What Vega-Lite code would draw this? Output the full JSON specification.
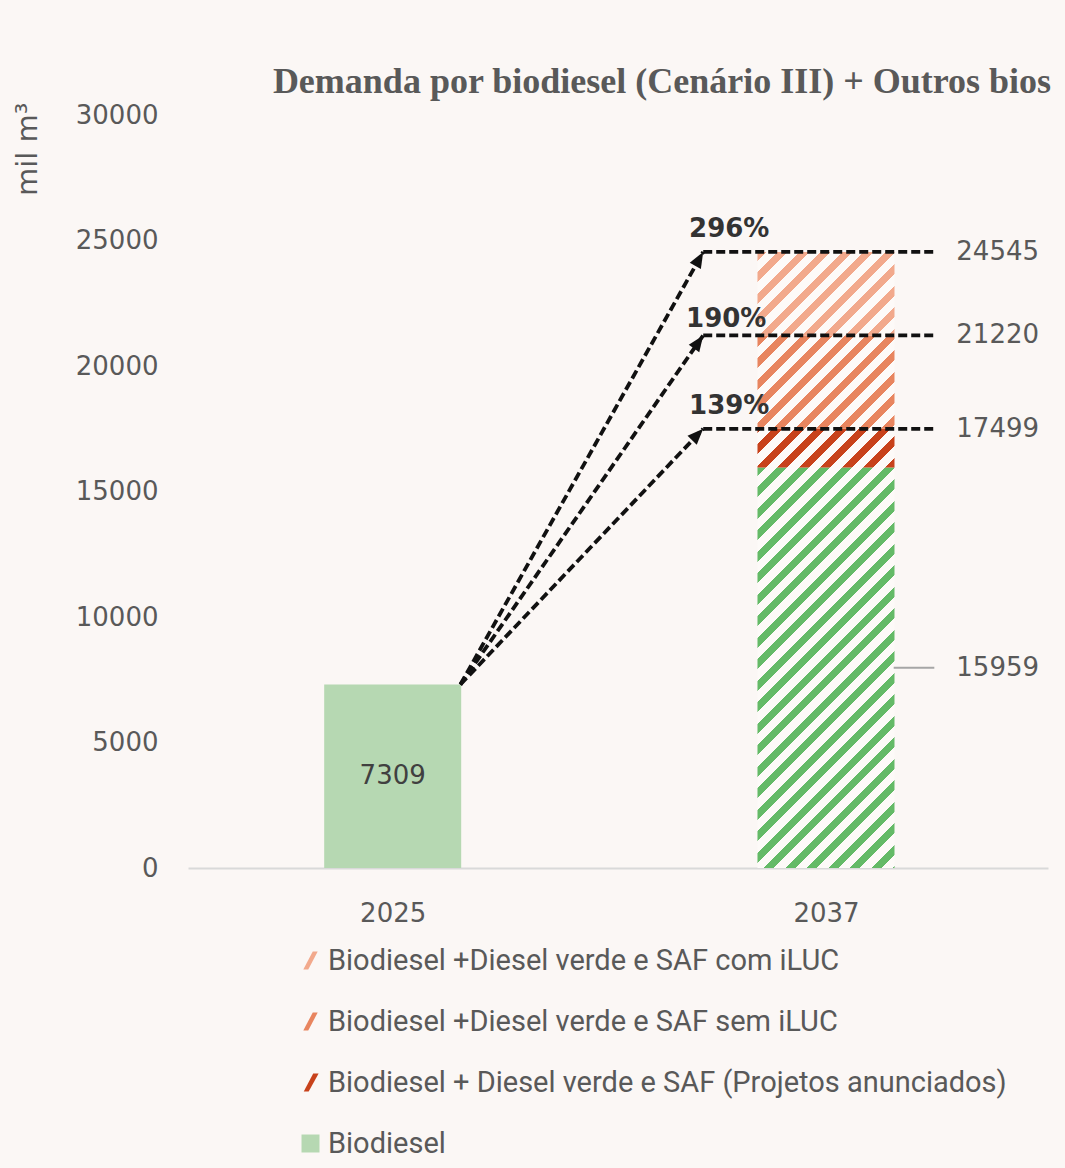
{
  "$schema": "https://vega.github.io/schema/vega-lite/v6.json",
  "width": 860,
  "height": 753,
  "autosize": {"type": "none"},
  "padding": {"left": 188, "top": 115, "right": 17, "bottom": 300},
  "background": "#fbf7f5",
  "config": {
    "view": {"stroke": null},
    "axis": {"grid": false},
    "legend": {
      "orient": "none", "legendX": 108, "legendY": 831, "direction": "vertical",
      "padding": 0, "rowPadding": 31, "labelFont": "Roboto", "labelFontSize": 29,
      "labelColor": "#595959", "symbolSize": 324, "symbolStrokeWidth": 0,
      "symbolOpacity": 1, "labelOffset": 3, "labelLimit": 900
    }
  },
  "title": {
    "text": "Demanda por biodiesel (Cenário III) + Outros bios",
    "font": "Liberation Serif", "fontSize": 36, "fontWeight": "bold", "color": "#595959",
    "anchor": "middle", "frame": "group", "dx": 44, "dy": 49, "offset": 22, "baseline": "alphabetic"
  },
  "datasets": {
    "seg": [
      {"ano": 2025, "serie": "Biodiesel", "de": 0, "ate": 7309},
      {"ano": 2037, "serie": "Biodiesel", "de": 0, "ate": 15959},
      {"ano": 2037, "serie": "Biodiesel + Diesel verde e SAF (Projetos anunciados)", "de": 15959, "ate": 17499},
      {"ano": 2037, "serie": "Biodiesel +Diesel verde e SAF sem iLUC", "de": 17499, "ate": 21220},
      {"ano": 2037, "serie": "Biodiesel +Diesel verde e SAF com iLUC", "de": 21220, "ate": 24545}
    ],
    "arr": [
      {"pct": "296%", "x0": 2026.875, "v0": 7309, "x1": 2033.6, "xe": 2040, "v1": 24545},
      {"pct": "190%", "x0": 2026.875, "v0": 7309, "x1": 2033.6, "xe": 2040, "v1": 21220},
      {"pct": "139%", "x0": 2026.875, "v0": 7309, "x1": 2033.6, "xe": 2040, "v1": 17499}
    ],
    "lab": [
      {"txt": "24545", "x": 2040, "v": 24545},
      {"txt": "21220", "x": 2040, "v": 21220},
      {"txt": "17499", "x": 2040, "v": 17499},
      {"txt": "15959", "x": 2040, "v": 7979.5}
    ],
    "inner": [{"txt": "7309", "x": 2025, "v": 3654.5}],
    "leader": [{"x0": 2038.875, "x1": 2040, "v": 7979.5}]
  },
  "layer": [
    {
      "data": {"name": "seg"},
      "transform": [{"filter": "datum.ano === 2025"}],
      "mark": {"type": "bar", "orient": "vertical", "width": 137, "color": "#b6d8b2"},
      "encoding": {
        "x": {"field": "ano", "type": "quantitative", "title": null,
          "scale": {"domain": [2019.47, 2043.01], "nice": false, "zero": false},
          "axis": {"title": null, "values": [2025, 2037], "format": "d", "grid": false, "ticks": false,
            "domain": true, "domainColor": "#d9d9d9", "domainWidth": 2,
            "labelFont": "DejaVu Sans", "labelFontSize": 26, "labelColor": "#595959", "labelPadding": 32}},
        "y": {"field": "de", "type": "quantitative", "title": "mil m³",
          "scale": {"domain": [0, 30000], "nice": false},
          "axis": {"title": "mil m³", "values": [0, 5000, 10000, 15000, 20000, 25000, 30000], "format": "d",
            "grid": false, "ticks": false, "domain": false,
            "labelFont": "DejaVu Sans", "labelFontSize": 26, "labelColor": "#595959", "labelPadding": 30,
            "titleFont": "DejaVu Sans", "titleFontSize": 29, "titleFontWeight": "normal", "titleColor": "#595959",
            "titleAngle": -90, "titleX": -152, "titleY": -13, "titleAlign": "right", "titleBaseline": "alphabetic"}},
        "y2": {"field": "ate"}
      }
    },
    {
      "data": {"name": "seg"},
      "transform": [{"filter": "datum.ano === 2037 && datum.de === 0"}],
      "mark": {"type": "bar", "orient": "vertical", "width": 137,
        "color": {"gradient": "linear", "x1": 0, "y1": 0, "x2": 0.41092, "y2": 1.20149, "stops": [
          {"offset": 0, "color": "#64ba67"}, {"offset": 0.0151, "color": "#64ba67"}, {"offset": 0.0151, "color": "#fdfaf8"},
          {"offset": 0.0365, "color": "#fdfaf8"}, {"offset": 0.0365, "color": "#64ba67"}, {"offset": 0.0551, "color": "#64ba67"}, {"offset": 0.0551, "color": "#fdfaf8"},
          {"offset": 0.0765, "color": "#fdfaf8"}, {"offset": 0.0765, "color": "#64ba67"}, {"offset": 0.0951, "color": "#64ba67"}, {"offset": 0.0951, "color": "#fdfaf8"},
          {"offset": 0.1165, "color": "#fdfaf8"}, {"offset": 0.1165, "color": "#64ba67"}, {"offset": 0.1351, "color": "#64ba67"}, {"offset": 0.1351, "color": "#fdfaf8"},
          {"offset": 0.1565, "color": "#fdfaf8"}, {"offset": 0.1565, "color": "#64ba67"}, {"offset": 0.1751, "color": "#64ba67"}, {"offset": 0.1751, "color": "#fdfaf8"},
          {"offset": 0.1965, "color": "#fdfaf8"}, {"offset": 0.1965, "color": "#64ba67"}, {"offset": 0.2151, "color": "#64ba67"}, {"offset": 0.2151, "color": "#fdfaf8"},
          {"offset": 0.2365, "color": "#fdfaf8"}, {"offset": 0.2365, "color": "#64ba67"}, {"offset": 0.2551, "color": "#64ba67"}, {"offset": 0.2551, "color": "#fdfaf8"},
          {"offset": 0.2765, "color": "#fdfaf8"}, {"offset": 0.2765, "color": "#64ba67"}, {"offset": 0.2951, "color": "#64ba67"}, {"offset": 0.2951, "color": "#fdfaf8"},
          {"offset": 0.3165, "color": "#fdfaf8"}, {"offset": 0.3165, "color": "#64ba67"}, {"offset": 0.3351, "color": "#64ba67"}, {"offset": 0.3351, "color": "#fdfaf8"},
          {"offset": 0.3565, "color": "#fdfaf8"}, {"offset": 0.3565, "color": "#64ba67"}, {"offset": 0.3751, "color": "#64ba67"}, {"offset": 0.3751, "color": "#fdfaf8"},
          {"offset": 0.3965, "color": "#fdfaf8"}, {"offset": 0.3965, "color": "#64ba67"}, {"offset": 0.4151, "color": "#64ba67"}, {"offset": 0.4151, "color": "#fdfaf8"},
          {"offset": 0.4365, "color": "#fdfaf8"}, {"offset": 0.4365, "color": "#64ba67"}, {"offset": 0.4551, "color": "#64ba67"}, {"offset": 0.4551, "color": "#fdfaf8"},
          {"offset": 0.4765, "color": "#fdfaf8"}, {"offset": 0.4765, "color": "#64ba67"}, {"offset": 0.4951, "color": "#64ba67"}, {"offset": 0.4951, "color": "#fdfaf8"},
          {"offset": 0.5165, "color": "#fdfaf8"}, {"offset": 0.5165, "color": "#64ba67"}, {"offset": 0.5351, "color": "#64ba67"}, {"offset": 0.5351, "color": "#fdfaf8"},
          {"offset": 0.5565, "color": "#fdfaf8"}, {"offset": 0.5565, "color": "#64ba67"}, {"offset": 0.5751, "color": "#64ba67"}, {"offset": 0.5751, "color": "#fdfaf8"},
          {"offset": 0.5965, "color": "#fdfaf8"}, {"offset": 0.5965, "color": "#64ba67"}, {"offset": 0.6151, "color": "#64ba67"}, {"offset": 0.6151, "color": "#fdfaf8"},
          {"offset": 0.6365, "color": "#fdfaf8"}, {"offset": 0.6365, "color": "#64ba67"}, {"offset": 0.6551, "color": "#64ba67"}, {"offset": 0.6551, "color": "#fdfaf8"},
          {"offset": 0.6765, "color": "#fdfaf8"}, {"offset": 0.6765, "color": "#64ba67"}, {"offset": 0.6951, "color": "#64ba67"}, {"offset": 0.6951, "color": "#fdfaf8"},
          {"offset": 0.7165, "color": "#fdfaf8"}, {"offset": 0.7165, "color": "#64ba67"}, {"offset": 0.7351, "color": "#64ba67"}, {"offset": 0.7351, "color": "#fdfaf8"},
          {"offset": 0.7565, "color": "#fdfaf8"}, {"offset": 0.7565, "color": "#64ba67"}, {"offset": 0.7751, "color": "#64ba67"}, {"offset": 0.7751, "color": "#fdfaf8"},
          {"offset": 0.7965, "color": "#fdfaf8"}, {"offset": 0.7965, "color": "#64ba67"}, {"offset": 0.8151, "color": "#64ba67"}, {"offset": 0.8151, "color": "#fdfaf8"},
          {"offset": 0.8365, "color": "#fdfaf8"}, {"offset": 0.8365, "color": "#64ba67"}, {"offset": 0.8551, "color": "#64ba67"}, {"offset": 0.8551, "color": "#fdfaf8"},
          {"offset": 0.8765, "color": "#fdfaf8"}, {"offset": 0.8765, "color": "#64ba67"}, {"offset": 0.8951, "color": "#64ba67"}, {"offset": 0.8951, "color": "#fdfaf8"},
          {"offset": 0.9165, "color": "#fdfaf8"}, {"offset": 0.9165, "color": "#64ba67"}, {"offset": 0.9351, "color": "#64ba67"}, {"offset": 0.9351, "color": "#fdfaf8"},
          {"offset": 0.9565, "color": "#fdfaf8"}, {"offset": 0.9565, "color": "#64ba67"}, {"offset": 0.9751, "color": "#64ba67"}, {"offset": 0.9751, "color": "#fdfaf8"},
          {"offset": 0.9965, "color": "#fdfaf8"}, {"offset": 0.9965, "color": "#64ba67"}, {"offset": 1, "color": "#64ba67"}
        ]}},
      "encoding": {
        "x": {"field": "ano", "type": "quantitative", "title": null},
        "y": {"field": "de", "type": "quantitative", "title": "mil m³"},
        "y2": {"field": "ate"}
      }
    },
    {
      "data": {"name": "seg"},
      "transform": [{"filter": "datum.de === 15959"}],
      "mark": {"type": "bar", "orient": "vertical", "width": 137,
        "color": {"gradient": "linear", "x1": 0, "y1": 0, "x2": 1.1876, "y2": 0.33504, "stops": [
          {"offset": 0, "color": "#c8421b"}, {"offset": 0.0216, "color": "#c8421b"}, {"offset": 0.0216, "color": "#fdfaf8"},
          {"offset": 0.0871, "color": "#fdfaf8"}, {"offset": 0.0871, "color": "#c8421b"}, {"offset": 0.1440, "color": "#c8421b"}, {"offset": 0.1440, "color": "#fdfaf8"},
          {"offset": 0.2095, "color": "#fdfaf8"}, {"offset": 0.2095, "color": "#c8421b"}, {"offset": 0.2664, "color": "#c8421b"}, {"offset": 0.2664, "color": "#fdfaf8"},
          {"offset": 0.3319, "color": "#fdfaf8"}, {"offset": 0.3319, "color": "#c8421b"}, {"offset": 0.3888, "color": "#c8421b"}, {"offset": 0.3888, "color": "#fdfaf8"},
          {"offset": 0.4543, "color": "#fdfaf8"}, {"offset": 0.4543, "color": "#c8421b"}, {"offset": 0.5112, "color": "#c8421b"}, {"offset": 0.5112, "color": "#fdfaf8"},
          {"offset": 0.5767, "color": "#fdfaf8"}, {"offset": 0.5767, "color": "#c8421b"}, {"offset": 0.6336, "color": "#c8421b"}, {"offset": 0.6336, "color": "#fdfaf8"},
          {"offset": 0.6991, "color": "#fdfaf8"}, {"offset": 0.6991, "color": "#c8421b"}, {"offset": 0.7560, "color": "#c8421b"}, {"offset": 0.7560, "color": "#fdfaf8"},
          {"offset": 0.8215, "color": "#fdfaf8"}, {"offset": 0.8215, "color": "#c8421b"}, {"offset": 0.8784, "color": "#c8421b"}, {"offset": 0.8784, "color": "#fdfaf8"},
          {"offset": 0.9439, "color": "#fdfaf8"}, {"offset": 0.9439, "color": "#c8421b"}, {"offset": 1, "color": "#c8421b"}
        ]}},
      "encoding": {
        "x": {"field": "ano", "type": "quantitative", "title": null},
        "y": {"field": "de", "type": "quantitative", "title": "mil m³"},
        "y2": {"field": "ate"}
      }
    },
    {
      "data": {"name": "seg"},
      "transform": [{"filter": "datum.de === 17499"}],
      "mark": {"type": "bar", "orient": "vertical", "width": 137,
        "color": {"gradient": "linear", "x1": 0, "y1": 0, "x2": 1.14811, "y2": 0.78273, "stops": [
          {"offset": 0, "color": "#fdfaf8"}, {"offset": 0.0052, "color": "#fdfaf8"}, {"offset": 0.0052, "color": "#e8855f"}, {"offset": 0.0486, "color": "#e8855f"}, {"offset": 0.0486, "color": "#fdfaf8"},
          {"offset": 0.0985, "color": "#fdfaf8"}, {"offset": 0.0985, "color": "#e8855f"}, {"offset": 0.1419, "color": "#e8855f"}, {"offset": 0.1419, "color": "#fdfaf8"},
          {"offset": 0.1918, "color": "#fdfaf8"}, {"offset": 0.1918, "color": "#e8855f"}, {"offset": 0.2352, "color": "#e8855f"}, {"offset": 0.2352, "color": "#fdfaf8"},
          {"offset": 0.2851, "color": "#fdfaf8"}, {"offset": 0.2851, "color": "#e8855f"}, {"offset": 0.3285, "color": "#e8855f"}, {"offset": 0.3285, "color": "#fdfaf8"},
          {"offset": 0.3784, "color": "#fdfaf8"}, {"offset": 0.3784, "color": "#e8855f"}, {"offset": 0.4218, "color": "#e8855f"}, {"offset": 0.4218, "color": "#fdfaf8"},
          {"offset": 0.4717, "color": "#fdfaf8"}, {"offset": 0.4717, "color": "#e8855f"}, {"offset": 0.5151, "color": "#e8855f"}, {"offset": 0.5151, "color": "#fdfaf8"},
          {"offset": 0.5651, "color": "#fdfaf8"}, {"offset": 0.5651, "color": "#e8855f"}, {"offset": 0.6085, "color": "#e8855f"}, {"offset": 0.6085, "color": "#fdfaf8"},
          {"offset": 0.6584, "color": "#fdfaf8"}, {"offset": 0.6584, "color": "#e8855f"}, {"offset": 0.7018, "color": "#e8855f"}, {"offset": 0.7018, "color": "#fdfaf8"},
          {"offset": 0.7517, "color": "#fdfaf8"}, {"offset": 0.7517, "color": "#e8855f"}, {"offset": 0.7951, "color": "#e8855f"}, {"offset": 0.7951, "color": "#fdfaf8"},
          {"offset": 0.8450, "color": "#fdfaf8"}, {"offset": 0.8450, "color": "#e8855f"}, {"offset": 0.8884, "color": "#e8855f"}, {"offset": 0.8884, "color": "#fdfaf8"},
          {"offset": 0.9383, "color": "#fdfaf8"}, {"offset": 0.9383, "color": "#e8855f"}, {"offset": 0.9817, "color": "#e8855f"}, {"offset": 0.9817, "color": "#fdfaf8"},
          {"offset": 1, "color": "#fdfaf8"}
        ]}},
      "encoding": {
        "x": {"field": "ano", "type": "quantitative", "title": null},
        "y": {"field": "de", "type": "quantitative", "title": "mil m³"},
        "y2": {"field": "ate"}
      }
    },
    {
      "data": {"name": "seg"},
      "transform": [{"filter": "datum.de === 21220"}],
      "mark": {"type": "bar", "orient": "vertical", "width": 137,
        "color": {"gradient": "linear", "x1": 0, "y1": 0, "x2": 1.17364, "y2": 0.71498, "stops": [
          {"offset": 0, "color": "#f2a98c"}, {"offset": 0.0392, "color": "#f2a98c"}, {"offset": 0.0392, "color": "#fdfaf8"},
          {"offset": 0.0914, "color": "#fdfaf8"}, {"offset": 0.0914, "color": "#f2a98c"}, {"offset": 0.1368, "color": "#f2a98c"}, {"offset": 0.1368, "color": "#fdfaf8"},
          {"offset": 0.1889, "color": "#fdfaf8"}, {"offset": 0.1889, "color": "#f2a98c"}, {"offset": 0.2343, "color": "#f2a98c"}, {"offset": 0.2343, "color": "#fdfaf8"},
          {"offset": 0.2864, "color": "#fdfaf8"}, {"offset": 0.2864, "color": "#f2a98c"}, {"offset": 0.3318, "color": "#f2a98c"}, {"offset": 0.3318, "color": "#fdfaf8"},
          {"offset": 0.3840, "color": "#fdfaf8"}, {"offset": 0.3840, "color": "#f2a98c"}, {"offset": 0.4293, "color": "#f2a98c"}, {"offset": 0.4293, "color": "#fdfaf8"},
          {"offset": 0.4815, "color": "#fdfaf8"}, {"offset": 0.4815, "color": "#f2a98c"}, {"offset": 0.5269, "color": "#f2a98c"}, {"offset": 0.5269, "color": "#fdfaf8"},
          {"offset": 0.5790, "color": "#fdfaf8"}, {"offset": 0.5790, "color": "#f2a98c"}, {"offset": 0.6244, "color": "#f2a98c"}, {"offset": 0.6244, "color": "#fdfaf8"},
          {"offset": 0.6765, "color": "#fdfaf8"}, {"offset": 0.6765, "color": "#f2a98c"}, {"offset": 0.7219, "color": "#f2a98c"}, {"offset": 0.7219, "color": "#fdfaf8"},
          {"offset": 0.7741, "color": "#fdfaf8"}, {"offset": 0.7741, "color": "#f2a98c"}, {"offset": 0.8194, "color": "#f2a98c"}, {"offset": 0.8194, "color": "#fdfaf8"},
          {"offset": 0.8716, "color": "#fdfaf8"}, {"offset": 0.8716, "color": "#f2a98c"}, {"offset": 0.9170, "color": "#f2a98c"}, {"offset": 0.9170, "color": "#fdfaf8"},
          {"offset": 0.9691, "color": "#fdfaf8"}, {"offset": 0.9691, "color": "#f2a98c"}, {"offset": 1, "color": "#f2a98c"}
        ]}},
      "encoding": {
        "x": {"field": "ano", "type": "quantitative", "title": null},
        "y": {"field": "de", "type": "quantitative", "title": "mil m³"},
        "y2": {"field": "ate"}
      }
    },
    {
      "data": {"name": "seg"},
      "mark": {"type": "point", "filled": true, "opacity": 0},
      "encoding": {
        "x": {"field": "ano", "type": "quantitative", "title": null},
        "y": {"field": "ate", "type": "quantitative", "title": "mil m³"},
        "color": {"field": "serie", "type": "nominal", "title": null,
          "scale": {"domain": ["Biodiesel +Diesel verde e SAF com iLUC", "Biodiesel +Diesel verde e SAF sem iLUC", "Biodiesel + Diesel verde e SAF (Projetos anunciados)", "Biodiesel"],
            "range": ["#f2a98c", "#e8855f", "#c8421b", "#b6d8b2"]}},
        "shape": {"field": "serie", "type": "nominal", "title": null,
          "scale": {"domain": ["Biodiesel +Diesel verde e SAF com iLUC", "Biodiesel +Diesel verde e SAF sem iLUC", "Biodiesel + Diesel verde e SAF (Projetos anunciados)", "Biodiesel"],
            "range": ["M0.25,-1 L0.8,-1 L-0.25,1 L-0.8,1 Z", "M0.25,-1 L0.8,-1 L-0.25,1 L-0.8,1 Z", "M0.3,-1 L0.9,-1 L-0.2,1 L-0.75,1 Z", "square"]}}
      }
    },
    {
      "data": {"name": "arr"},
      "mark": {"type": "rule", "strokeDash": [9, 4], "strokeWidth": 3.8, "color": "#111111"},
      "encoding": {
        "x": {"field": "x0", "type": "quantitative", "title": null},
        "y": {"field": "v0", "type": "quantitative", "title": "mil m³"},
        "x2": {"field": "x1"},
        "y2": {"field": "v1"}
      }
    },
    {
      "data": {"name": "arr"},
      "mark": {"type": "rule", "strokeDash": [9, 4], "strokeWidth": 3.8, "color": "#111111"},
      "encoding": {
        "x": {"field": "x1", "type": "quantitative", "title": null},
        "x2": {"field": "xe"},
        "y": {"field": "v1", "type": "quantitative", "title": "mil m³"}
      }
    },
    {
      "data": {"name": "arr"},
      "mark": {"type": "point", "shape": "M0,0 L0.8,2 L-0.8,2 Z", "size": 256, "filled": true, "color": "#111111", "opacity": 1},
      "encoding": {
        "x": {"field": "x1", "type": "quantitative", "title": null},
        "y": {"field": "v1", "type": "quantitative", "title": "mil m³"},
        "angle": {"condition": [{"test": "datum.pct === '296%'", "value": 29.6}, {"test": "datum.pct === '190%'", "value": 35.1}], "value": 43.9}
      }
    },
    {
      "data": {"name": "arr"},
      "transform": [{"filter": "datum.pct !== '190%'"}],
      "mark": {"type": "text", "font": "DejaVu Sans", "fontSize": 26, "fontWeight": "bold", "color": "#333333", "dx": 26, "dy": -23, "baseline": "middle"},
      "encoding": {
        "x": {"field": "x1", "type": "quantitative", "title": null},
        "y": {"field": "v1", "type": "quantitative", "title": "mil m³"},
        "text": {"field": "pct"}
      }
    },
    {
      "data": {"name": "arr"},
      "transform": [{"filter": "datum.pct === '190%'"}],
      "mark": {"type": "text", "font": "DejaVu Sans", "fontSize": 26, "fontWeight": "bold", "color": "#333333", "dx": 23, "dy": -16, "baseline": "middle"},
      "encoding": {
        "x": {"field": "x1", "type": "quantitative", "title": null},
        "y": {"field": "v1", "type": "quantitative", "title": "mil m³"},
        "text": {"field": "pct"}
      }
    },
    {
      "data": {"name": "lab"},
      "mark": {"type": "text", "align": "left", "baseline": "middle", "dx": 22, "font": "DejaVu Sans", "fontSize": 26, "color": "#595959"},
      "encoding": {
        "x": {"field": "x", "type": "quantitative", "title": null},
        "y": {"field": "v", "type": "quantitative", "title": "mil m³"},
        "text": {"field": "txt"}
      }
    },
    {
      "data": {"name": "inner"},
      "mark": {"type": "text", "align": "center", "baseline": "middle", "font": "DejaVu Sans", "fontSize": 26, "color": "#404040"},
      "encoding": {
        "x": {"field": "x", "type": "quantitative", "title": null},
        "y": {"field": "v", "type": "quantitative", "title": "mil m³"},
        "text": {"field": "txt"}
      }
    },
    {
      "data": {"name": "leader"},
      "mark": {"type": "rule", "strokeWidth": 2, "color": "#a6a6a6"},
      "encoding": {
        "x": {"field": "x0", "type": "quantitative", "title": null},
        "x2": {"field": "x1"},
        "y": {"field": "v", "type": "quantitative", "title": "mil m³"}
      }
    }
  ]
}
